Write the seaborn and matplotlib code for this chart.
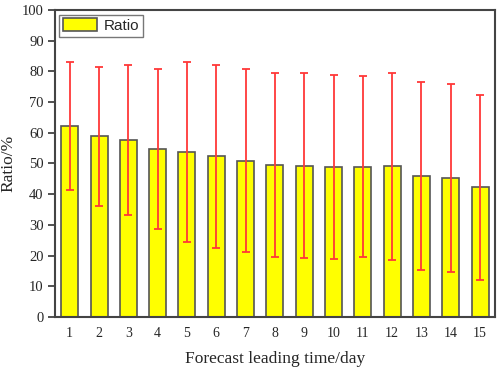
import matplotlib
matplotlib.use("Agg")
import matplotlib.pyplot as plt
import seaborn as sns
import pandas as pd

days = list(range(1, 16))
ratio_mean = [62.2, 58.8, 57.6, 54.8, 53.7, 52.4, 50.9, 49.4, 49.3, 48.8, 49.0, 49.1, 46.0, 45.3, 42.3]
ratio_std = [20.7, 22.5, 24.5, 26.1, 29.3, 29.8, 29.9, 30.0, 30.2, 30.0, 29.6, 30.4, 30.6, 30.7, 30.1]
yticks = list(range(0, 101, 10))

df = pd.DataFrame({"day": days, "ratio": ratio_mean, "std": ratio_std})

sns.set_style("ticks")
serif = ["Liberation Serif", "DejaVu Serif"]

fig = plt.figure(figsize=(4.98, 3.69), dpi=100)
ax = fig.add_axes([0.110, 0.141, 0.884, 0.832])

sns.barplot(data=df, x="day", y="ratio", native_scale=True, width=0.58,
            color="#FFFF00", edgecolor="#555555", linewidth=1.2,
            errorbar=None, saturation=1, ax=ax, label="Ratio")
ax.errorbar(df["day"], df["ratio"], yerr=df["std"], fmt="none",
            ecolor="#FF3838", elinewidth=1.3, capsize=3, capthick=1.3, zorder=3)

ax.set_xlim(0.49, 15.51)
ax.set_ylim(0, 100)
ax.set_yticks(yticks)
ax.set_xticks(days)
ax.set_xticklabels([str(d) for d in days], family=serif, fontsize=10)
ax.set_yticklabels([str(t) for t in yticks], family=serif, fontsize=10.5)
ax.tick_params(axis="x", direction="in", length=6, width=1.2, color="#333333", pad=7)
ax.tick_params(axis="y", direction="out", length=5, width=1.2, color="#333333", pad=3)

for s in ax.spines.values():
    s.set_visible(True)
    s.set_linewidth(1.5)
    s.set_color("#444444")

ax.set_xlabel("Forecast leading time/day", family=serif, fontsize=12.5, labelpad=8)
ax.set_ylabel("Ratio/%", family=serif, fontsize=12.5, labelpad=4)

leg = ax.legend(loc="upper left", fancybox=False, edgecolor="#555555",
                handlelength=2.2, handleheight=0.9, handletextpad=0.45,
                borderpad=0.25, borderaxespad=0.3,
                prop={"family": ["Liberation Sans", "DejaVu Sans"], "size": 11})
leg.get_frame().set_linewidth(1.0)

fig.savefig("out.png", dpi=100)
